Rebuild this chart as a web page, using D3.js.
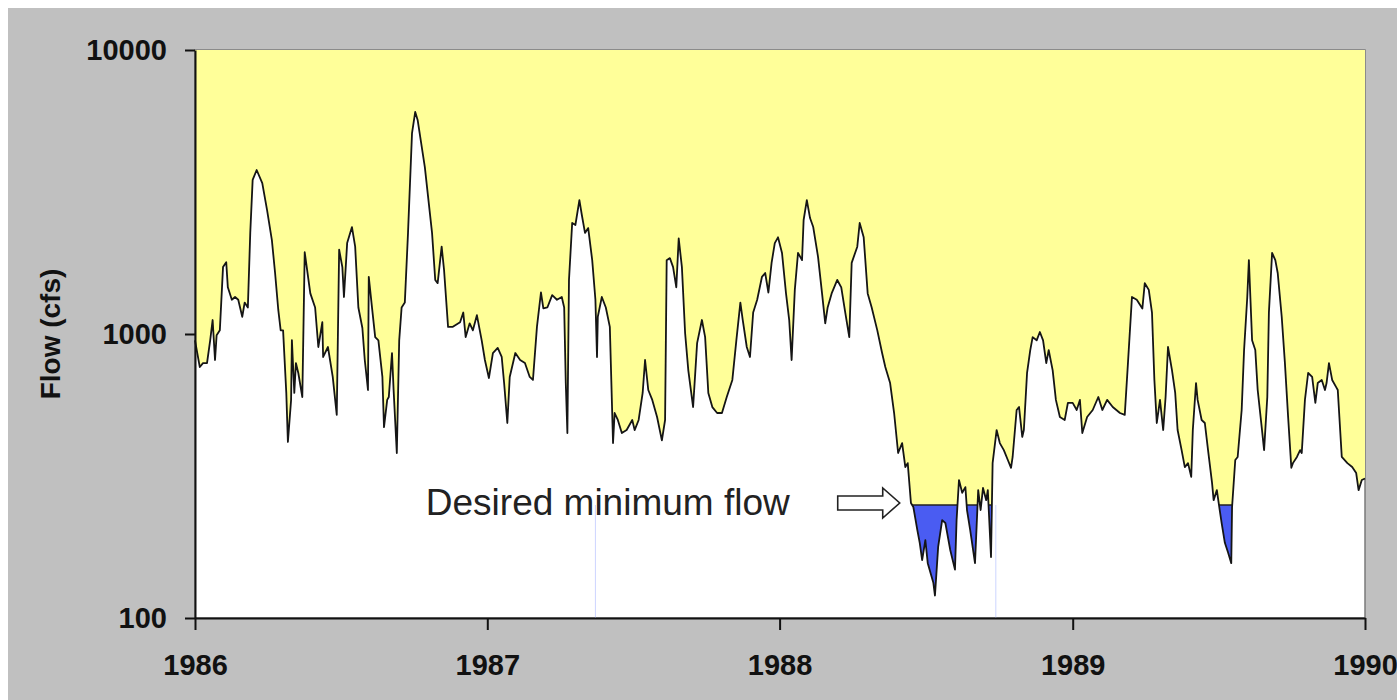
<!DOCTYPE html>
<html><head><meta charset="utf-8">
<script src="https://cdn.jsdelivr.net/npm/d3@7"></script>
<style>body{margin:0;background:#fff} svg{display:block}</style>
</head><body>
<svg id="c" width="1397" height="700"></svg>
<script>
// ---- data ----
const startDate = new Date(1986, 0, 1);
// days since 1986-01-01
const days = [0,6,10,15,19,22,25,27,31,35,39,41,46,50,54,59,62,66,69,72,77,84,90,96,100,104,107,110,114,116,120,121,124,126,129,134,137,144,150,154,159,160,166,172,177,180,184,186,190,196,200,204,209,212,216,217,221,225,229,234,236,240,242,246,248,252,255,258,262,266,271,275,278,287,296,300,303,308,311,316,322,331,335,338,343,347,352,358,362,367,372,378,383,386,390,393,400,406,412,418,422,427,432,435,440,446,452,458,461,463,465,467,471,475,480,483,487,491,496,500,502,503,508,513,518,522,524,528,533,539,546,549,554,559,562,566,571,577,583,587,589,593,597,601,604,608,612,616,622,627,633,637,641,646,652,658,664,671,676,681,684,689,693,697,702,708,712,716,720,724,728,733,738,742,745,749,753,758,760,764,768,772,778,783,787,790,795,802,807,812,817,820,827,830,835,840,845,852,858,862,868,873,878,883,887,890,894,897,902,905,908,912,915,922,924,928,933,937,943,949,951,954,958,962,964,968,974,978,981,984,988,990,994,996,1001,1005,1010,1015,1019,1021,1026,1029,1033,1035,1039,1043,1046,1051,1055,1059,1063,1066,1071,1075,1080,1086,1090,1096,1101,1105,1108,1114,1121,1128,1133,1139,1146,1155,1161,1165,1170,1176,1183,1186,1191,1195,1198,1201,1205,1209,1212,1215,1220,1224,1227,1232,1236,1240,1244,1246,1250,1252,1257,1261,1265,1270,1272,1276,1279,1282,1286,1290,1294,1295,1299,1302,1307,1310,1314,1316,1320,1324,1327,1332,1335,1339,1341,1345,1349,1352,1357,1361,1365,1369,1371,1376,1380,1382,1386,1390,1395,1399,1402,1407,1411,1413,1416,1420,1425,1427,1432,1439,1445,1450,1453,1457,1461];
// daily flow (cfs)
const flows = [950,765,790,790,952,1120,810,990,1030,1720,1790,1460,1320,1350,1320,1150,1290,1240,2270,3490,3780,3400,2730,2140,1640,1215,1030,1030,620,417,586,952,620,790,729,600,1940,1390,1240,900,1100,830,900,706,519,1980,1720,1350,2090,2380,2030,1240,1050,810,635,1590,1240,975,950,706,470,586,600,857,635,381,950,1240,1290,2270,5100,6050,5670,3870,2270,1550,1510,2030,1680,1060,1060,1100,1190,975,1090,1030,1165,950,810,700,857,893,830,672,486,706,857,810,790,706,689,1060,1400,1230,1240,1370,1320,1350,1240,672,448,1550,2460,2420,2960,2630,2270,2360,1820,1320,830,1150,1350,1240,1060,413,527,498,448,459,498,459,498,620,810,635,586,510,422,498,1820,1850,1720,1460,2170,1720,1008,745,553,929,1120,975,620,553,527,527,600,689,950,1290,1120,900,830,1190,1320,1590,1640,1400,1780,2090,2190,1930,1390,1120,810,1430,1930,1820,2520,2960,2560,2380,1870,1390,1090,1240,1390,1550,1460,1190,975,1780,2030,2460,2190,1390,1240,1030,857,765,672,527,381,413,340,351,254,246,204,184,160,188,156,133,120,178,221,216,174,148,221,306,276,289,240,204,156,282,240,287,260,282,164,351,459,413,390,360,338,369,540,553,434,459,729,878,975,950,1016,950,790,878,745,586,510,498,572,572,540,586,448,510,540,600,540,586,553,527,519,790,1350,1320,1230,1510,1430,1190,689,486,586,459,600,900,745,620,459,390,340,351,314,459,672,586,498,486,390,299,260,282,246,216,184,170,156,246,360,369,540,878,1350,1820,950,878,635,470,390,600,1190,1930,1820,1640,1150,790,510,338,351,369,390,381,586,729,706,572,672,689,635,672,790,689,650,635,369,351,340,324,282,306,310];
const minFlow = 250;                 // desired minimum flow
const yTicks = [100, 1000, 10000];
const xTickYears = [1986, 1987, 1988, 1989, 1990];
const faintMarkDays = [500, 1000];
const annotationText = "Desired minimum flow";
const yTitle = "Flow (cfs)";
const arrowTipDay = 880;

// ---- drawing ----
const svg = d3.select("#c");
const W = 1397, H = 700;
const m = {l: 195, r: 1365, t: 50, b: 618};
const font = "Arial, 'Liberation Sans', sans-serif";

svg.append("rect").attr("x", 8).attr("y", 8).attr("width", W - 8).attr("height", H - 8).attr("fill", "#c0c0c0");

const x = d3.scaleTime()
  .domain([new Date(xTickYears[0], 0, 1), new Date(xTickYears[xTickYears.length - 1], 0, 1)])
  .range([m.l, m.r]);
const y = d3.scaleLog().domain([yTicks[0], yTicks[yTicks.length - 1]]).range([m.b, m.t]);

const data = days.map((d, i) => ({date: d3.timeDay.offset(startDate, d), v: flows[i]}));

// plot background
svg.append("rect").attr("x", m.l).attr("y", m.t).attr("width", m.r - m.l).attr("height", m.b - m.t)
  .attr("fill", "#ffffff").attr("stroke", "#7a7a7a").attr("stroke-width", 1.5);

const aboveArea = d3.area().x(d => x(d.date)).y0(m.t).y1(d => y(d.v));

// yellow area above the hydrograph
svg.append("path").datum(data).attr("fill", "#ffff99").attr("d", aboveArea);

// clip paths
const defs = svg.append("defs");
defs.append("clipPath").attr("id", "below")
  .append("rect").attr("x", m.l).attr("y", y(minFlow)).attr("width", m.r - m.l).attr("height", m.b - y(minFlow));
defs.append("clipPath").attr("id", "aboveCurve")
  .append("path").datum(data).attr("d", aboveArea);

// blue deficit area below minimum flow
svg.append("path").datum(data)
  .attr("clip-path", "url(#below)")
  .attr("fill", "#4a5cf2")
  .attr("d", d3.area().x(d => x(d.date)).y0(y(minFlow)).y1(d => y(d.v)));

// minimum-flow edge, visible only where flow is below it
svg.append("line").attr("clip-path", "url(#aboveCurve)")
  .attr("x1", m.l).attr("x2", m.r).attr("y1", y(minFlow)).attr("y2", y(minFlow))
  .attr("stroke", "#222").attr("stroke-width", 1.5);

// faint vertical marks
svg.selectAll(".faint").data(faintMarkDays).join("line")
  .attr("x1", d => x(d3.timeDay.offset(startDate, d))).attr("x2", d => x(d3.timeDay.offset(startDate, d)))
  .attr("y1", y(minFlow)).attr("y2", m.b)
  .attr("stroke", "#cdd5ff").attr("stroke-width", 1);

// hydrograph line
svg.append("path").datum(data)
  .attr("fill", "none").attr("stroke", "#151515").attr("stroke-width", 1.8).attr("stroke-linejoin", "round")
  .attr("d", d3.line().x(d => x(d.date)).y(d => y(d.v)));

// axes
const yAxis = svg.append("g").attr("transform", `translate(${m.l},0)`)
  .call(d3.axisLeft(y).tickValues(yTicks).tickFormat(d3.format("d")).tickSize(10).tickSizeOuter(0).tickPadding(18));
const xAxis = svg.append("g").attr("transform", `translate(0,${m.b})`)
  .call(d3.axisBottom(x).tickValues(xTickYears.map(yr => new Date(yr, 0, 1))).tickFormat(d3.timeFormat("%Y"))
    .tickSize(12).tickSizeOuter(0).tickPadding(24));
[yAxis, xAxis].forEach(g => {
  g.select(".domain").attr("stroke", "#111").attr("stroke-width", 2);
  g.selectAll(".tick line").attr("stroke", "#111").attr("stroke-width", 2);
  g.selectAll("text").attr("font-family", font).attr("font-weight", "bold").attr("font-size", 29).attr("fill", "#111");
});

// y title
svg.append("text").attr("transform", `translate(60,${(m.t + m.b) / 2}) rotate(-90)`)
  .attr("text-anchor", "middle").attr("font-family", font).attr("font-weight", "bold").attr("font-size", 28)
  .attr("fill", "#111").text(yTitle);

// annotation
const tipX = x(d3.timeDay.offset(startDate, arrowTipDay));
const tipY = y(minFlow) - 2;
const arrow = [[tipX - 62, tipY - 7], [tipX - 17, tipY - 7], [tipX - 17, tipY - 15], [tipX, tipY],
  [tipX - 17, tipY + 15], [tipX - 17, tipY + 7], [tipX - 62, tipY + 7]];
svg.append("path").attr("d", d3.line()(arrow) + "Z")
  .attr("fill", "#fff").attr("stroke", "#222").attr("stroke-width", 1.6).attr("stroke-linejoin", "miter");
svg.append("text").attr("x", tipX - 110).attr("y", tipY + 12)
  .attr("text-anchor", "end").attr("font-family", font).attr("font-size", 37).attr("fill", "#222")
  .text(annotationText);
</script>
</body></html>
